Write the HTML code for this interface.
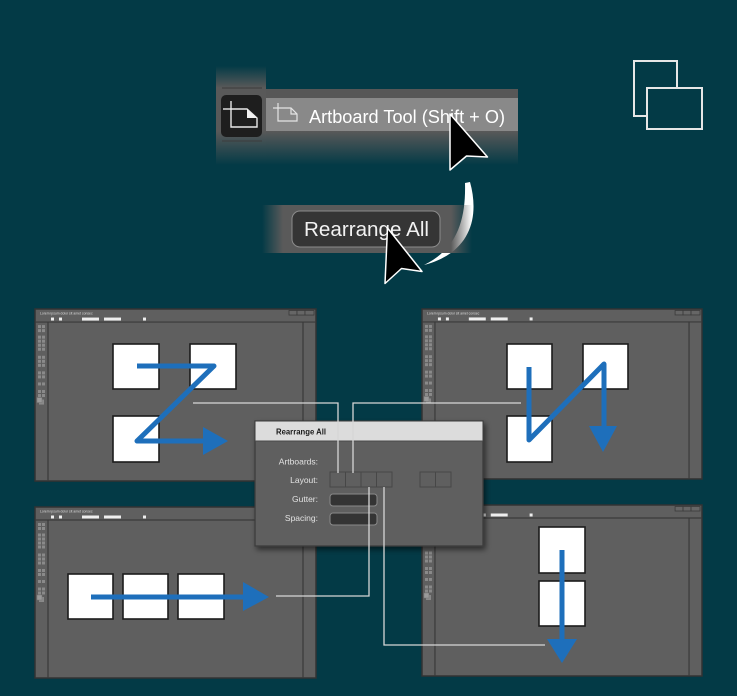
<!DOCTYPE html>
<html><head><meta charset="utf-8"><style>html,body{margin:0;padding:0;background:#033a46;overflow:hidden}svg{display:block}</style></head>
<body>
<svg width="737" height="696" viewBox="0 0 737 696" xmlns="http://www.w3.org/2000/svg" xmlns:xlink="http://www.w3.org/1999/xlink" font-family="'Liberation Sans', sans-serif">
<defs>
  <linearGradient id="vstrip" x1="0" y1="0" x2="0" y2="1">
    <stop offset="0" stop-color="#595959" stop-opacity="0"/>
    <stop offset="0.22" stop-color="#595959" stop-opacity="1"/>
    <stop offset="0.66" stop-color="#595959" stop-opacity="1"/>
    <stop offset="1" stop-color="#595959" stop-opacity="0"/>
  </linearGradient>
  <linearGradient id="below" x1="0" y1="0" x2="0" y2="1">
    <stop offset="0" stop-color="#595959" stop-opacity="1"/>
    <stop offset="1" stop-color="#595959" stop-opacity="0"/>
  </linearGradient>
  <linearGradient id="hstrip" x1="0" y1="0" x2="1" y2="0">
    <stop offset="0" stop-color="#5a5a5a" stop-opacity="0"/>
    <stop offset="0.1" stop-color="#5a5a5a" stop-opacity="1"/>
    <stop offset="0.9" stop-color="#5a5a5a" stop-opacity="1"/>
    <stop offset="1" stop-color="#5a5a5a" stop-opacity="0"/>
  </linearGradient>
  <filter id="sh" x="-20%" y="-20%" width="140%" height="150%">
    <feDropShadow dx="2" dy="3" stdDeviation="3" flood-color="#000" flood-opacity="0.55"/>
  </filter>
  <g id="win">
    <rect x="0" y="0" width="281" height="171" fill="#5f5f5f" stroke="#333" stroke-width="1.5"/>
    <line x1="0" y1="13" x2="281" y2="13" stroke="#3a3a3a" stroke-width="1.2"/>
    <line x1="13" y1="13" x2="13" y2="171" stroke="#3a3a3a" stroke-width="1.2"/>
    <line x1="268" y1="13" x2="268" y2="171" stroke="#3a3a3a" stroke-width="1.2"/>
    <text x="5" y="5.5" font-size="3.4" fill="#dcdcdc">Lorem ipsum dolor sit amet consec</text>
    <rect x="16" y="8.5" width="3" height="3" fill="#eee"/>
    <rect x="24" y="8.5" width="3" height="3" fill="#eee"/>
    <rect x="47" y="8.5" width="17" height="3" fill="#eee"/>
    <rect x="69" y="8.5" width="17" height="3" fill="#eee"/>
    <rect x="108" y="8.5" width="3" height="3" fill="#eee"/>
    <rect x="254" y="1.5" width="8" height="4.5" fill="#666" stroke="#3a3a3a" stroke-width="0.8"/>
    <rect x="262" y="1.5" width="8" height="4.5" fill="#666" stroke="#3a3a3a" stroke-width="0.8"/>
    <rect x="270" y="1.5" width="9" height="4.5" fill="#666" stroke="#3a3a3a" stroke-width="0.8"/>
    <g fill="#8a8a8a">
      <rect x="3" y="16" width="3" height="3"/><rect x="7" y="16" width="3" height="3"/>
      <rect x="3" y="20" width="3" height="3"/><rect x="7" y="20" width="3" height="3"/>
      <rect x="3" y="26.5" width="3" height="3"/><rect x="7" y="26.5" width="3" height="3"/>
      <rect x="3" y="30.5" width="3" height="3"/><rect x="7" y="30.5" width="3" height="3"/>
      <rect x="3" y="34.5" width="3" height="3"/><rect x="7" y="34.5" width="3" height="3"/>
      <rect x="3" y="38.5" width="3" height="3"/><rect x="7" y="38.5" width="3" height="3"/>
      <rect x="3" y="46.5" width="3" height="3"/><rect x="7" y="46.5" width="3" height="3"/>
      <rect x="3" y="50.5" width="3" height="3"/><rect x="7" y="50.5" width="3" height="3"/>
      <rect x="3" y="54.5" width="3" height="3"/><rect x="7" y="54.5" width="3" height="3"/>
      <rect x="3" y="62" width="3" height="3"/><rect x="7" y="62" width="3" height="3"/>
      <rect x="3" y="66" width="3" height="3"/><rect x="7" y="66" width="3" height="3"/>
      <rect x="3" y="73" width="3" height="3"/><rect x="7" y="73" width="3" height="3"/>
      <rect x="3" y="80.5" width="3" height="3"/><rect x="7" y="80.5" width="3" height="3"/>
      <rect x="3" y="84.5" width="3" height="3"/><rect x="7" y="84.5" width="3" height="3"/>
      <rect x="4" y="90" width="5" height="5"/>
    </g>
    <rect x="2" y="88" width="5" height="5" fill="#9a9a9a" stroke="#777" stroke-width="0.5"/>
  </g>
</defs>

<rect x="0" y="0" width="737" height="696" fill="#033a46"/>

<!-- top-right icon -->
<rect x="634" y="61" width="43" height="55" fill="none" stroke="#e6e6e6" stroke-width="2"/>
<rect x="647" y="88" width="55" height="41" fill="#033a46" stroke="#e6e6e6" stroke-width="2"/>

<!-- Artboard tool flyout -->
<rect x="216" y="66" width="50" height="99" fill="url(#vstrip)"/>
<line x1="222" y1="88" x2="262" y2="88" stroke="#3c3c3c" stroke-width="1"/>
<line x1="222" y1="141" x2="262" y2="141" stroke="#3c3c3c" stroke-width="1"/>
<rect x="266" y="89" width="252" height="9" fill="#575757"/>
<rect x="266" y="98" width="252" height="33" fill="#898989"/>
<rect x="266" y="131" width="252" height="34" fill="url(#below)"/>
<rect x="221" y="95" width="41" height="42" rx="5" fill="#1e1e1e"/>
<g stroke="#e8e8e8" stroke-width="1.4" fill="none">
  <line x1="223" y1="109" x2="231" y2="109"/>
  <line x1="231" y1="101" x2="231" y2="109"/>
  <path d="M231,109 H247 L257,118 V127 H231 Z"/>
</g>
<polygon points="247,109 257,118 247,118" fill="#f2f2f2"/>
<g stroke="#e4e4e4" stroke-width="1.2" fill="none">
  <line x1="273" y1="108" x2="278" y2="108"/>
  <line x1="278" y1="103" x2="278" y2="108"/>
  <path d="M278,108 H291 L297,114 V121 H278 Z"/>
  <path d="M291,108 V114 H297"/>
</g>
<text x="309" y="123" font-size="18" fill="#ffffff" textLength="196" lengthAdjust="spacingAndGlyphs">Artboard Tool (Shift + O)</text>

<!-- curved arrow -->
<path d="M470,182 C480,218 470,253 424,265 C457,249 466,220 465,183 Z" fill="#ffffff"/>

<!-- Rearrange All button -->
<rect x="262" y="205" width="210" height="48" fill="url(#hstrip)"/>
<rect x="292" y="211" width="148" height="36" rx="8" fill="#353535" stroke="#8c8c8c" stroke-width="1"/>
<text x="304" y="236" font-size="20" fill="#f2f2f2" textLength="125" lengthAdjust="spacingAndGlyphs">Rearrange All</text>

<!-- cursors -->
<polygon points="450,114 450,170 466.5,156 487.5,157" fill="#000" stroke="#fff" stroke-width="1.5" stroke-linejoin="round"/>
<polygon points="387.5,228 385,283.5 401.5,268.5 422,271.5" fill="#000" stroke="#fff" stroke-width="1.5" stroke-linejoin="round"/>

<!-- windows -->
<use xlink:href="#win" href="#win" transform="translate(35,309) scale(1,1.006)"/>
<use xlink:href="#win" href="#win" transform="translate(422,309) scale(0.9964,0.994)"/>
<use xlink:href="#win" href="#win" transform="translate(35,507)"/>
<use xlink:href="#win" href="#win" transform="translate(422,505) scale(0.9964,1)"/>

<!-- artboards -->
<g fill="#fff" stroke="#1c1c1c" stroke-width="1.6">
  <rect x="113" y="344" width="46" height="45"/>
  <rect x="190" y="344" width="46" height="45"/>
  <rect x="113" y="416" width="46" height="46"/>
  <rect x="507" y="344" width="45" height="45"/>
  <rect x="583" y="344" width="45" height="45"/>
  <rect x="507" y="416" width="45" height="46"/>
  <rect x="68" y="574" width="45" height="45"/>
  <rect x="123" y="574" width="45" height="45"/>
  <rect x="178" y="574" width="46" height="45"/>
  <rect x="539" y="527" width="46" height="46"/>
  <rect x="539" y="581" width="46" height="45"/>
</g>

<!-- blue arrows -->
<g stroke="#1e6fbb" stroke-width="5" fill="none" stroke-linejoin="round">
  <path d="M137,366 L214,366 L137,441 L205,441"/>
  <path d="M529,367 L529,440 L604,364 L604,428"/>
  <path d="M91,597 L245,597"/>
  <path d="M562,550 L562,641"/>
</g>
<g fill="#1e6fbb">
  <polygon points="203,427 228,441 203,455"/>
  <polygon points="589,426 617,426 603,452"/>
  <polygon points="243,582 269,597 243,611"/>
  <polygon points="547,639 577,639 562,663"/>
</g>

<!-- dialog -->
<g filter="url(#sh)">
  <rect x="255" y="421" width="228" height="125" fill="#5f5f5f" stroke="#3a3a3a" stroke-width="1.2"/>
</g>
<rect x="255.5" y="421.5" width="227" height="19.5" fill="#dcdcdc"/>
<line x1="255" y1="441" x2="483" y2="441" stroke="#4a4a4a" stroke-width="1"/>
<text x="276" y="434.5" font-size="8.5" font-weight="bold" fill="#1a1a1a" textLength="50" lengthAdjust="spacingAndGlyphs">Rearrange All</text>
<g font-size="8.5" fill="#e2e2e2" text-anchor="end">
  <text x="318" y="464.5">Artboards:</text>
  <text x="318" y="483">Layout:</text>
  <text x="318" y="502">Gutter:</text>
  <text x="318" y="521">Spacing:</text>
</g>
<g fill="none" stroke="#474747" stroke-width="1">
  <rect x="330" y="472" width="15.5" height="15"/>
  <rect x="345.5" y="472" width="15.5" height="15"/>
  <rect x="361" y="472" width="15.5" height="15"/>
  <rect x="376.5" y="472" width="15.5" height="15"/>
  <rect x="420" y="472" width="15.5" height="15"/>
  <rect x="435.5" y="472" width="15.5" height="15"/>
</g>
<rect x="330" y="494" width="47" height="12" rx="3" fill="#343434" stroke="#8a8a8a" stroke-width="1"/>
<rect x="330" y="513" width="47" height="12" rx="3" fill="#343434" stroke="#8a8a8a" stroke-width="1"/>

<!-- connector lines -->
<g stroke="#d6d6d6" stroke-width="1.3" fill="none">
  <path d="M193,403 H338 V473"/>
  <path d="M521,403 H353 V473"/>
  <path d="M369,487 V596 H276"/>
  <path d="M384,487 V645 H545"/>
</g>
</svg>
</body></html>
